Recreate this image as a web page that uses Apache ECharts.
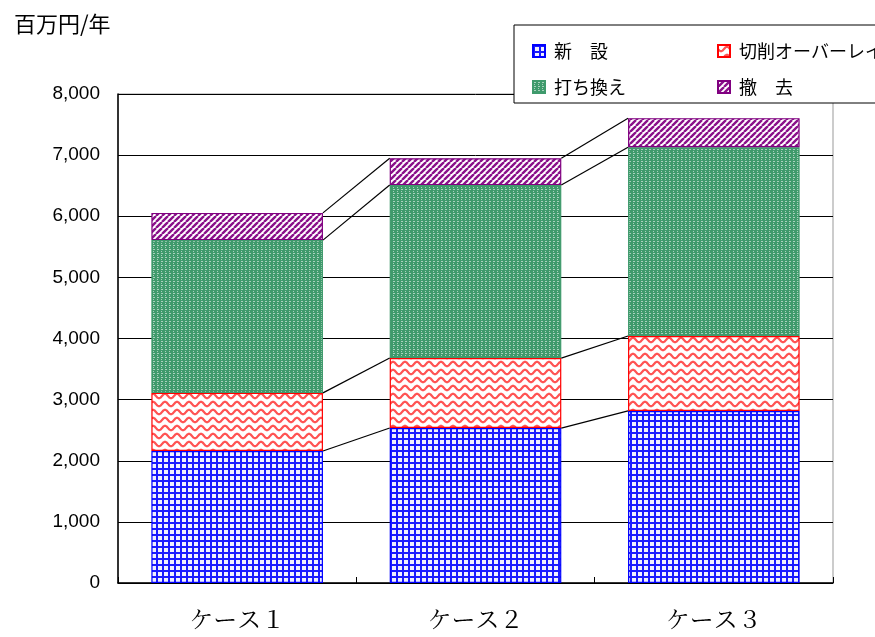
<!DOCTYPE html>
<html><head><meta charset="utf-8">
<script src="https://cdn.jsdelivr.net/npm/echarts@6/dist/echarts.min.js"></script>
<style>html,body{margin:0;padding:0;background:#fff}#c{width:875px;height:637px}</style>
</head><body><div id="c"></div>
<script>
const categories = ['ケース１', 'ケース２', 'ケース３'];
const newBuild = [2160, 2535, 2815];     // 新　設
const overlay = [950, 1145, 1225];       // 切削オーバーレイ
const replace = [2500, 2830, 3090];      // 打ち換え
const removal = [445, 440, 475];         // 撤　去
const seriesNames = ['新　設', '切削オーバーレイ', '打ち換え', '撤　去'];
const yTicks = [0, 1000, 2000, 3000, 4000, 5000, 6000, 7000, 8000];

function mk(w, h, draw) {
  const c = document.createElement('canvas'); c.width = w; c.height = h;
  draw(c.getContext('2d'), w, h); return c;
}
const pGrid = mk(6, 6, (g) => { g.fillStyle = '#1a1aff'; g.fillRect(0,0,6,6); g.fillStyle = '#f0f0ff'; g.fillRect(2,2,4,4); });
const pWave = mk(12, 8, (g, w, h) => {
  g.fillStyle = '#fff'; g.fillRect(0,0,w,h);
  g.strokeStyle = 'rgba(255,40,40,0.8)'; g.lineWidth = 2.2; g.beginPath();
  for (let x = -1; x <= w + 1; x += 0.5) { const y = 4 + 2.2 * Math.sin(x / w * 2 * Math.PI); if (x === -1) g.moveTo(x, y); else g.lineTo(x, y); }
  g.stroke();
});
const pDots = mk(4, 4, (g) => { g.fillStyle = '#3f9a6c'; g.fillRect(0,0,4,4); g.fillStyle = 'rgba(255,255,255,0.55)'; g.fillRect(1,1,2,1); g.fillRect(1,3,1,1); });
const pDiag = mk(6, 6, (g) => {
  g.fillStyle = '#fff'; g.fillRect(0,0,6,6);
  g.strokeStyle = '#8a118a'; g.lineWidth = 2.4; g.beginPath();
  for (let k = -6; k <= 12; k += 6) { g.moveTo(k, 6); g.lineTo(k + 6, 0); }
  g.stroke();
});

const stacks = [newBuild, overlay, replace, removal];
const cum = [];
let run = categories.map(() => 0);
stacks.forEach(s => { run = run.map((v, i) => v + s[i]); cum.push(run.slice()); });

const fills = [pGrid, pWave, pDots, pDiag];
const borders = ['#0000ff', '#ff0000', '#3f9a6c', '#800080'];
const barSeries = stacks.map((d, k) => ({
  name: seriesNames[k], type: 'bar', stack: 'a', data: d, barCategoryGap: '28%',
  itemStyle: { color: { image: fills[k], repeat: 'repeat' }, borderColor: borders[k], borderWidth: 1.2 },
  emphasis: { disabled: true }, z: 3
}));

const legendText = { fontSize: 18, color: '#000', padding: [0,0,0,4], fontFamily: '"Noto Sans CJK JP", sans-serif' };
const chart = echarts.init(document.getElementById('c'), null, { renderer: 'canvas' });
chart.setOption({
  animation: false,
  textStyle: { fontFamily: '"Noto Sans CJK JP", sans-serif' },
  title: { text: '百万円/年', left: 9, top: 8, textStyle: { fontSize: 22, fontWeight: 'normal', color: '#000', fontFamily: '"Noto Sans CJK JP", sans-serif' } },
  grid: { left: 118, right: 42, top: 94, bottom: 54, show: true, borderColor: '#999', borderWidth: 1 },
  graphic: [{ type: 'rect', z: 8, shape: { x: 514, y: 25, width: 400, height: 78 }, style: { fill: '#fff', stroke: '#000', lineWidth: 1 } }],
  legend: [
    { data: [seriesNames[0], seriesNames[2]], orient: 'vertical', left: 527, top: 37, itemGap: 18, itemWidth: 12, itemHeight: 12, z: 10,
      icon: 'rect', selectedMode: false, textStyle: legendText },
    { data: [seriesNames[1], seriesNames[3]], orient: 'vertical', left: 712, top: 37, itemGap: 18, itemWidth: 12, itemHeight: 12, z: 10,
      icon: 'rect', selectedMode: false, textStyle: legendText }
  ],
  xAxis: {
    type: 'category', data: categories,
    axisLine: { lineStyle: { color: '#000', width: 1.5 } },
    axisTick: { show: true, inside: true, length: 6, lineStyle: { color: '#000' } },
    axisLabel: { fontSize: 24, color: '#000', margin: 24, fontFamily: '"Noto Serif CJK JP", "Noto Sans CJK JP", serif' }
  },
  yAxis: {
    type: 'value', min: yTicks[0], max: yTicks[yTicks.length - 1], interval: 1000,
    axisLine: { show: true, lineStyle: { color: '#000', width: 1.5 } },
    axisTick: { show: false },
    splitLine: { lineStyle: { color: '#000', width: 1 } },
    axisLabel: { fontSize: 19, color: '#000', margin: 18, fontFamily: '"Liberation Sans", Arial, sans-serif',
      formatter: v => v.toLocaleString('en-US') }
  },
  series: barSeries.concat([{
    type: 'custom', name: 'links', silent: true, z: 4,
    data: categories.slice(0, -1).map((c, i) => [i]),
    renderItem: (params, api) => {
      const i = api.value(0);
      const half = api.size([1, 0])[0] * 0.72 / 2;
      const children = cum.map(level => {
        const a = api.coord([i, level[i]]);
        const b = api.coord([i + 1, level[i + 1]]);
        return { type: 'line', shape: { x1: a[0] + half, y1: a[1], x2: b[0] - half, y2: b[1] }, style: { stroke: '#000', lineWidth: 1.2 } };
      });
      return { type: 'group', children };
    }
  }])
});
</script></body></html>
